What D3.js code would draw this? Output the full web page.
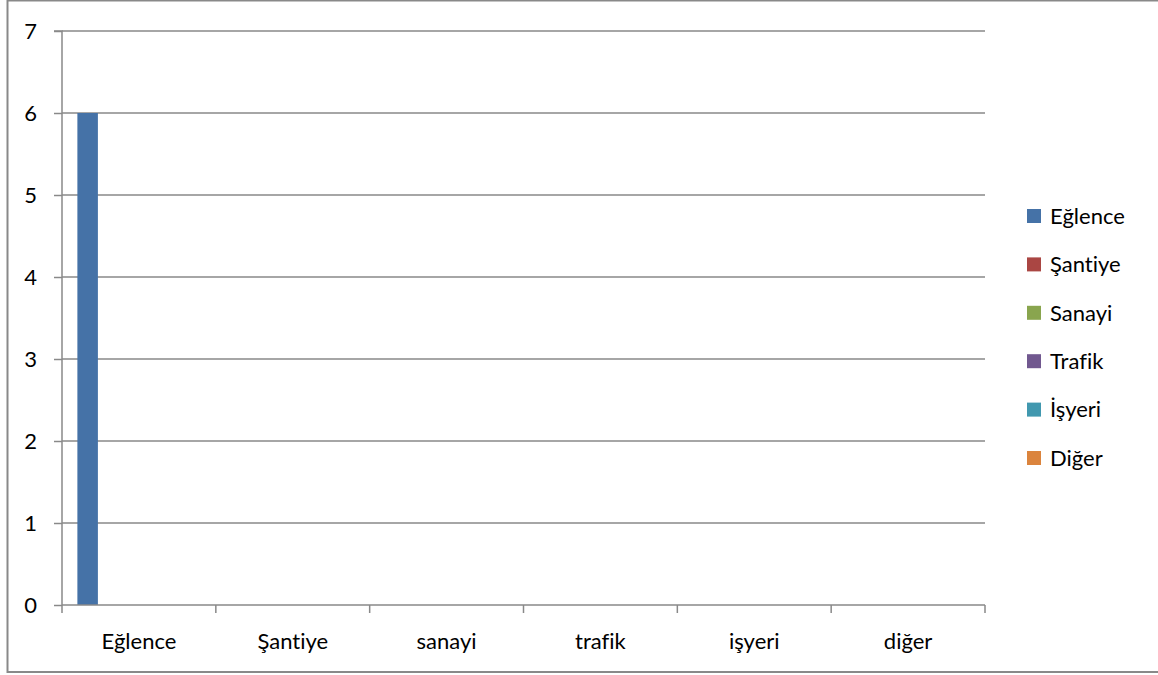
<!DOCTYPE html>
<html>
<head>
<meta charset="utf-8">
<script src="https://cdn.jsdelivr.net/npm/d3@7.9.0/dist/d3.min.js"></script>
<style>
  body { margin: 0; background: #fff; }
  svg text { font-family: Lato, "Open Sans", sans-serif; fill: #000; font-variant-ligatures: none; }
</style>
</head>
<body>
<svg id="chart" width="1158" height="675"></svg>
<script>
// categories on the x axis
const categories = ['Eğlence', 'Şantiye', 'sanayi', 'trafik', 'işyeri', 'diğer'];
// series (legend entries) and their colours
const seriesNames = ['Eğlence', 'Şantiye', 'Sanayi', 'Trafik', 'İşyeri', 'Diğer'];
const seriesColors = ['#4572a7', '#aa4643', '#89a54e', '#71588f', '#4198af', '#db843d'];
// one row per series, one value per category
const seriesValues = [
  [6, 0, 0, 0, 0, 0],
  [0, 0, 0, 0, 0, 0],
  [0, 0, 0, 0, 0, 0],
  [0, 0, 0, 0, 0, 0],
  [0, 0, 0, 0, 0, 0],
  [0, 0, 0, 0, 0, 0]
];
const yTicks = [0, 1, 2, 3, 4, 5, 6, 7];

const svg = d3.select('#chart');
const grey = '#898989';
const fontSize = 22;

// outer frame
svg.append('rect')
  .attr('x', 7.5).attr('y', 0.5)
  .attr('width', 1160).attr('height', 671.5)
  .attr('fill', 'none').attr('stroke', grey).attr('stroke-width', 2);

const plotLeft = 62, plotRight = 985, plotTop = 31, plotBottom = 605;

let x = d3.scaleBand().domain(categories).range([plotLeft, plotRight]);
// gap width 150% -> 6 bars + 1.5 bar widths of gap per category
let inner = d3.scaleBand().domain(seriesNames).range([0, x.bandwidth()])
  .paddingInner(0).paddingOuter(0.75);
let y = d3.scaleLinear().domain([0, 7]).range([plotBottom, plotTop]);

// gridlines
svg.append('g').selectAll('line')
  .data(yTicks.filter(d => d > 0))
  .join('line')
  .attr('x1', plotLeft).attr('x2', plotRight)
  .attr('y1', d => y(d)).attr('y2', d => y(d))
  .attr('stroke', grey).attr('stroke-width', 1.5);

// bars
seriesValues.forEach((vals, s) => {
  svg.append('g').selectAll('rect')
    .data(vals)
    .join('rect')
    .attr('x', (d, i) => x(categories[i]) + inner(seriesNames[s]))
    .attr('width', inner.bandwidth())
    .attr('y', d => y(d))
    .attr('height', d => y(0) - y(d))
    .attr('fill', seriesColors[s]);
});

// y axis
let yAxis = svg.append('g')
  .attr('transform', `translate(${plotLeft},0)`)
  .call(d3.axisLeft(y).tickValues(yTicks).tickFormat(d3.format('d')).tickSize(8).tickPadding(17));
yAxis.select('.domain').attr('stroke', grey).attr('stroke-width', 1.5).attr('d', `M-8,${plotTop}H0V${plotBottom}`);
yAxis.selectAll('.tick line').attr('stroke', grey).attr('stroke-width', 1.5);
yAxis.selectAll('.tick text').attr('font-size', fontSize).attr('fill', '#000');

// x axis
let xAxis = svg.append('g')
  .attr('transform', `translate(0,${plotBottom})`)
  .call(d3.axisBottom(x).tickSize(0).tickPadding(28));
xAxis.select('.domain').attr('stroke', grey).attr('stroke-width', 1.5).attr('d', `M${plotLeft},0H${plotRight}`);
xAxis.selectAll('.tick text').attr('font-size', fontSize).attr('fill', '#000');
xAxis.selectAll('.sep')
  .data(d3.range(categories.length + 1))
  .join('line')
  .attr('class', 'sep')
  .attr('x1', i => plotLeft + i * x.step()).attr('x2', i => plotLeft + i * x.step())
  .attr('y1', 0).attr('y2', 8)
  .attr('stroke', grey).attr('stroke-width', 1.5);

// legend
let legend = svg.append('g').attr('transform', 'translate(1027,209)');
let items = legend.selectAll('g')
  .data(seriesNames)
  .join('g')
  .attr('transform', (d, i) => `translate(0,${i * 48.4})`);
items.append('rect')
  .attr('width', 14).attr('height', 14)
  .attr('fill', (d, i) => seriesColors[i]);
items.append('text')
  .attr('x', 23).attr('y', 7).attr('dy', '0.35em')
  .attr('font-size', fontSize)
  .text(d => d);
</script>
</body>
</html>
